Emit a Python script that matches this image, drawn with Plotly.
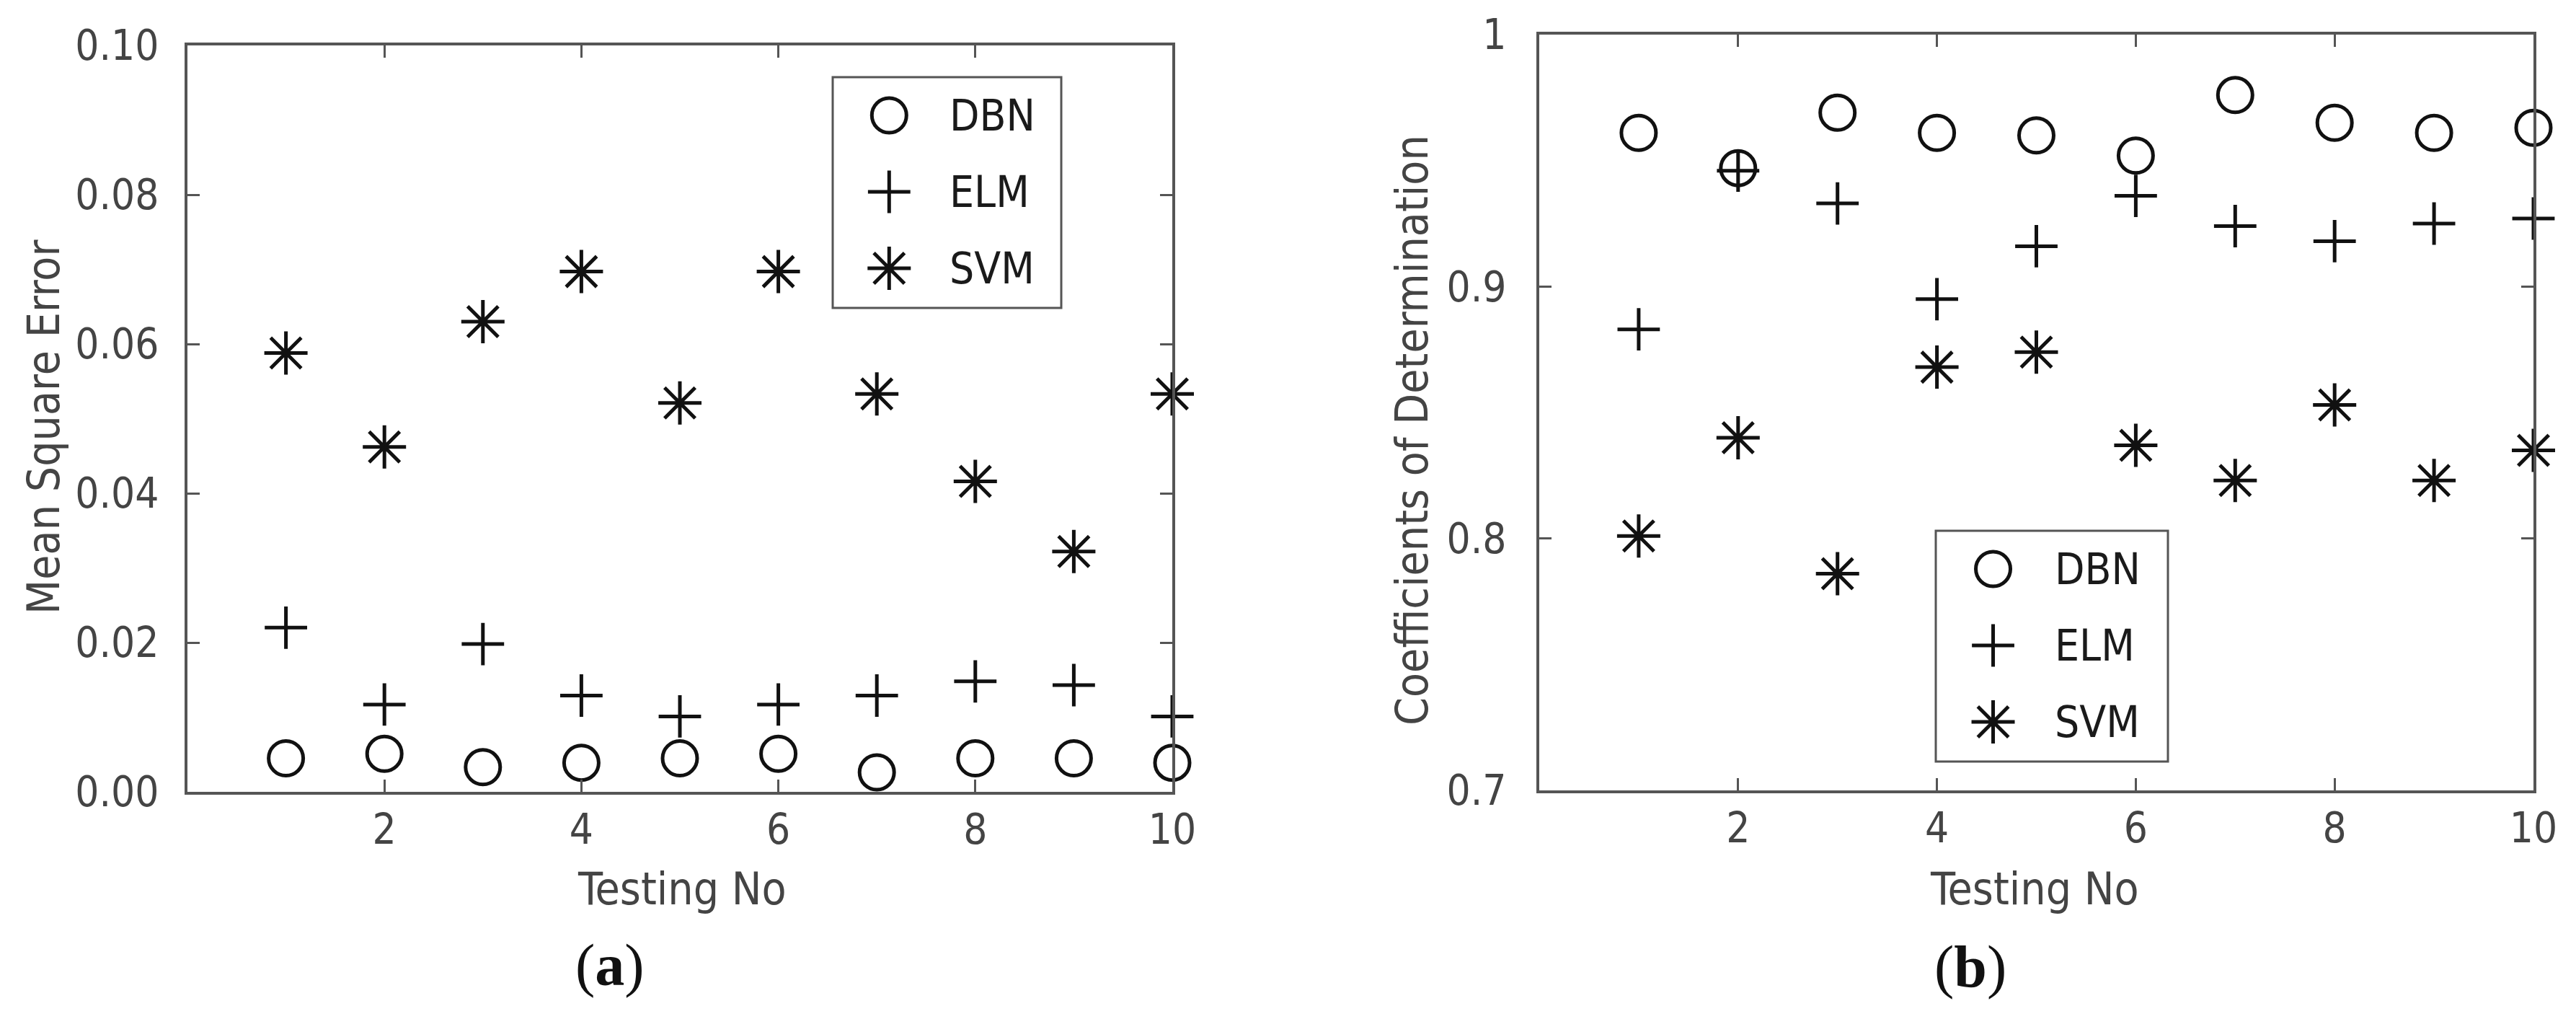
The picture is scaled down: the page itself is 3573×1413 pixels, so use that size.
import plotly.graph_objects as go

# ---------------- data ----------------
testing_no = [1, 2, 3, 4, 5, 6, 7, 8, 9, 10]
series_names = ["DBN", "ELM", "SVM"]

mse_dbn = [0.0045, 0.0051, 0.0033, 0.0039, 0.0045, 0.0051, 0.0026, 0.0045, 0.0045, 0.0039]
mse_elm = [0.0220, 0.0117, 0.0198, 0.0129, 0.0101, 0.0117, 0.0129, 0.0148, 0.0143, 0.0101]
mse_svm = [0.0588, 0.0462, 0.0630, 0.0697, 0.0521, 0.0697, 0.0533, 0.0416, 0.0322, 0.0533]

r2_dbn = [0.961, 0.947, 0.969, 0.961, 0.960, 0.952, 0.976, 0.965, 0.961, 0.963]
r2_elm = [0.883, 0.946, 0.933, 0.895, 0.916, 0.936, 0.924, 0.918, 0.925, 0.927]
r2_svm = [0.801, 0.840, 0.786, 0.868, 0.874, 0.837, 0.823, 0.853, 0.823, 0.835]

x_ticks = [2, 4, 6, 8, 10]
mse_ticks = [0.00, 0.02, 0.04, 0.06, 0.08, 0.10]
r2_ticks = [0.7, 0.8, 0.9, 1.0]
r2_ticktext = ["0.7", "0.8", "0.9", "1"]

# ---------------- styling ----------------
W, H = 3573, 1413
def fx(px):
    return px / W
def fy(py):
    return 1 - py / H

FONT = "Liberation Sans Narrow, DejaVu Sans Condensed, Arial Narrow, sans-serif"
AX = "#555555"
TXT = "#444444"
MK = "#111111"

symbols = {"DBN": ("circle-open", 48), "ELM": ("cross-thin-open", 42), "SVM": ("asterisk-open", 50)}

fig = go.Figure()

def add_series(xref, yref, name, ys):
    sym, size = symbols[name]
    fig.add_trace(go.Scatter(
        x=testing_no, y=ys, mode="markers", name=name, showlegend=False,
        xaxis=xref, yaxis=yref, cliponaxis=False,
        marker=dict(symbol=sym, size=size, color=MK, line=dict(width=5, color=MK)),
    ))

add_series("x", "y", "DBN", mse_dbn)
add_series("x", "y", "ELM", mse_elm)
add_series("x", "y", "SVM", mse_svm)
add_series("x2", "y2", "DBN", r2_dbn)
add_series("x2", "y2", "ELM", r2_elm)
add_series("x2", "y2", "SVM", r2_svm)

# ---------------- custom legends (large symbols) ----------------
legend_boxes = [("x3", "y3"), ("x4", "y4")]
row_frac = [1 - (53 + i * 106) / 320 for i in range(len(series_names))]
for xr, yr in legend_boxes:
    for i, name in enumerate(series_names):
        sym, size = symbols[name]
        fig.add_trace(go.Scatter(
            x=[0.247], y=[row_frac[i]], mode="markers", showlegend=False,
            xaxis=xr, yaxis=yr, cliponaxis=False, hoverinfo="skip",
            marker=dict(symbol=sym, size=size, color=MK, line=dict(width=5, color=MK)),
        ))
        fig.add_annotation(
            x=0.505, y=row_frac[i], xref=xr, yref=yr, text=name, showarrow=False,
            xanchor="left", yanchor="middle",
            font=dict(family=FONT, size=60, color="#1a1a1a"),
        )
    fig.add_shape(type="rect", xref=xr + " domain", yref=yr + " domain",
                  x0=0, x1=1, y0=0, y1=1, line=dict(color=AX, width=3),
                  fillcolor="rgba(0,0,0,0)", layer="above")

axis_common = dict(
    showgrid=False, zeroline=False, showline=True, linecolor=AX, linewidth=4,
    mirror="ticks", ticks="inside", ticklen=17, tickwidth=3, tickcolor=AX,
    tickfont=dict(family=FONT, size=58, color=TXT), automargin=False,
)

fig.update_layout(
    template="none",
    width=W, height=H, autosize=False,
    margin=dict(l=0, r=0, t=0, b=0, pad=0, autoexpand=False),
    paper_bgcolor="white", plot_bgcolor="white",
    showlegend=False,
    xaxis=dict(domain=[fx(252), fx(1618)], range=[0, 10], tickvals=x_ticks,
               anchor="y", ticklabelstandoff=-2, **axis_common),
    yaxis=dict(domain=[fy(1090), fy(55)], range=[0, 0.1], tickvals=mse_ticks,
               tickformat=".2f", anchor="x", ticklabelstandoff=24, **axis_common),
    xaxis2=dict(domain=[fx(2127), fx(3506)], range=[0, 10], tickvals=x_ticks,
                anchor="y2", ticklabelstandoff=-2, **axis_common),
    yaxis2=dict(domain=[fy(1088), fy(40)], range=[0.7, 1.0], tickvals=r2_ticks,
                ticktext=r2_ticktext, anchor="x2", ticklabelstandoff=30, **axis_common),
    xaxis3=dict(domain=[fx(1147), fx(1464)], range=[0, 1], visible=False, anchor="y3"),
    yaxis3=dict(domain=[fy(419), fy(99)], range=[0, 1], visible=False, anchor="x3"),
    xaxis4=dict(domain=[fx(2677), fx(2999)], range=[0, 1], visible=False, anchor="y4"),
    yaxis4=dict(domain=[fy(1048), fy(728)], range=[0, 1], visible=False, anchor="x4"),
)

# axis titles & panel labels
title_font = dict(family=FONT, size=62, color=TXT)
fig.add_annotation(x=fx(938), y=fy(1224), xref="paper", yref="paper", text="Testing No",
                   showarrow=False, xanchor="center", yanchor="middle", font=title_font)
fig.add_annotation(x=fx(2814), y=fy(1224), xref="paper", yref="paper", text="Testing No",
                   showarrow=False, xanchor="center", yanchor="middle", font=title_font)
fig.add_annotation(x=fx(52), y=fy(585), xref="paper", yref="paper", text="Mean Square Error",
                   showarrow=False, textangle=-90, xanchor="center", yanchor="middle", font=title_font)
fig.add_annotation(x=fx(1950), y=fy(588), xref="paper", yref="paper",
                   text="Coefficients of Determination",
                   showarrow=False, textangle=-90, xanchor="center", yanchor="middle", font=title_font)

label_font = dict(family="Liberation Serif, Times New Roman, serif", size=82, color="#111111")
fig.add_annotation(x=fx(838), y=fy(1330), xref="paper", yref="paper", text="(<b>a</b>)",
                   showarrow=False, xanchor="center", yanchor="middle", font=label_font)
fig.add_annotation(x=fx(2725), y=fy(1332), xref="paper", yref="paper", text="(<b>b</b>)",
                   showarrow=False, xanchor="center", yanchor="middle", font=label_font)

fig.write_html("out.html", config={"responsive": False})
